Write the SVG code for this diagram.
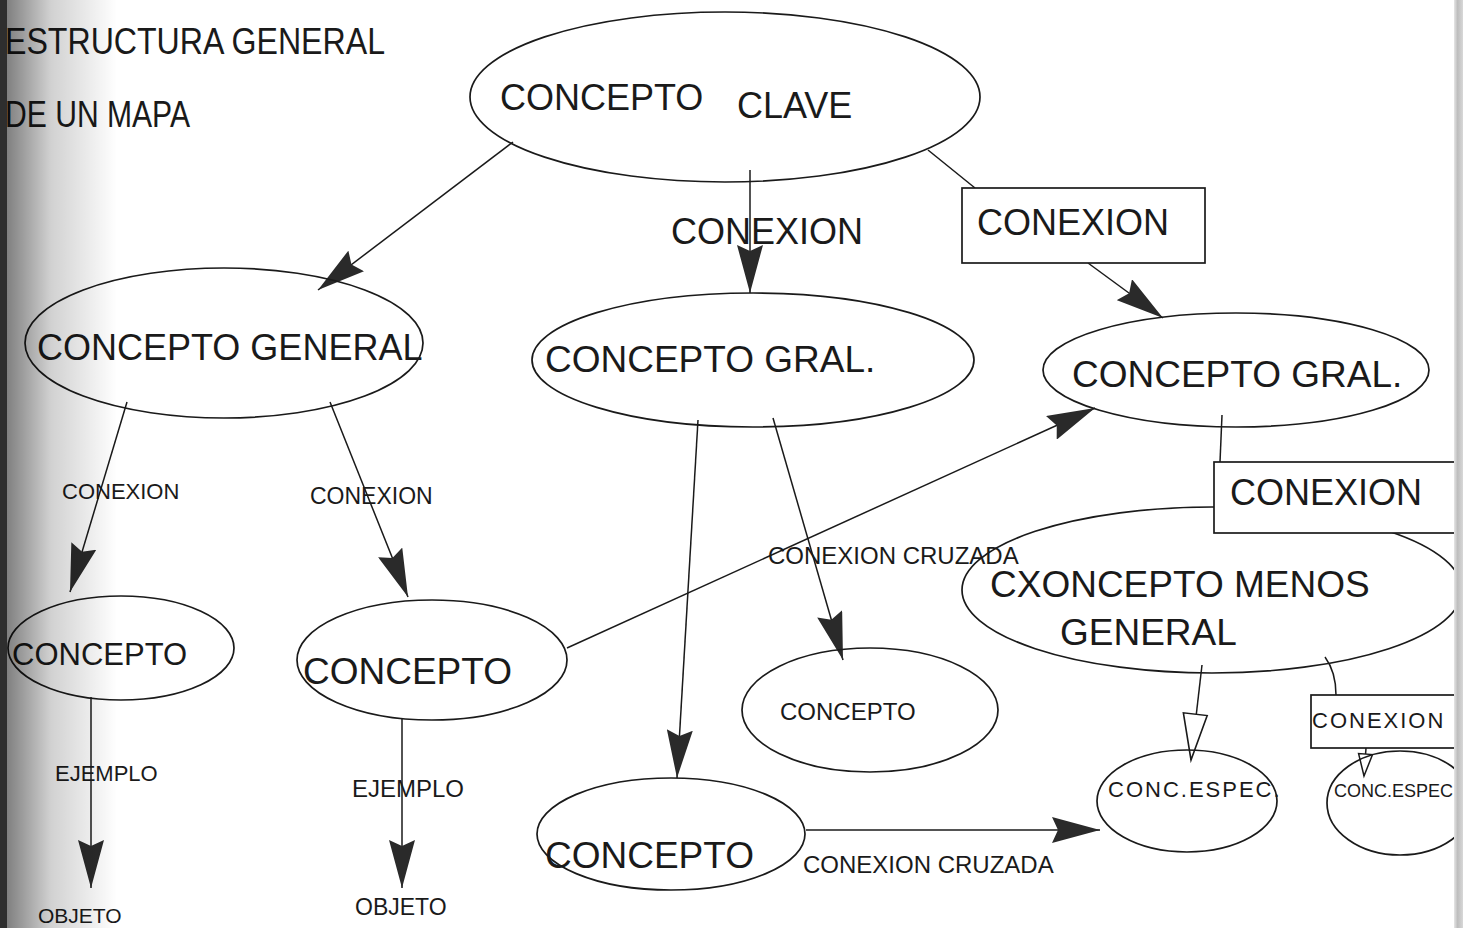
<svg xmlns="http://www.w3.org/2000/svg" width="1463" height="928" viewBox="0 0 1463 928">
<style>
text{font-family:"Liberation Sans",Arial,sans-serif;fill:#1a1a1a}
.big{font-size:36px}
.sm{font-size:23px}
.xs{font-size:22px;letter-spacing:2px}
.node{fill:none;stroke:#1a1a1a;stroke-width:1.7}
.box{fill:#fff;stroke:#1a1a1a;stroke-width:1.7}
.edge{fill:none;stroke:#1a1a1a;stroke-width:1.5}
</style>
<defs>
<marker id="ah" markerUnits="userSpaceOnUse" markerWidth="50" markerHeight="26" refX="48" refY="13" orient="auto">
<path d="M0,0 L48,13 L0,26 L6,13 z" fill="#2a2a2a"/>
</marker>
<marker id="ho" markerUnits="userSpaceOnUse" markerWidth="52" markerHeight="28" refX="48" refY="13" orient="auto">
<path d="M2,2 L48,13 L2,26 z" fill="#fff" stroke="#1a1a1a" stroke-width="1.6"/>
</marker>
<marker id="hs" markerUnits="userSpaceOnUse" markerWidth="28" markerHeight="20" refX="24" refY="9" orient="auto">
<path d="M2,2 L24,9 L2,16 z" fill="#fff" stroke="#1a1a1a" stroke-width="1.5"/>
</marker>
<linearGradient id="lg" x1="0" y1="0" x2="1" y2="0">
<stop offset="0" stop-color="#000" stop-opacity="0.5"/>
<stop offset="0.4" stop-color="#000" stop-opacity="0.18"/>
<stop offset="1" stop-color="#000" stop-opacity="0"/>
</linearGradient>
<linearGradient id="rg" x1="0" y1="0" x2="1" y2="0">
<stop offset="0" stop-color="#e6e6e6"/>
<stop offset="0.4" stop-color="#bdbdbd"/>
<stop offset="1" stop-color="#d8d8d8"/>
</linearGradient>
</defs>
<rect width="1463" height="928" fill="#fff"/>

<g id="title">
<text x="5" y="54" style="font-size:37px" textLength="380" lengthAdjust="spacingAndGlyphs">ESTRUCTURA GENERAL</text>
<text x="5" y="127" style="font-size:37px" textLength="185" lengthAdjust="spacingAndGlyphs">DE UN MAPA</text>
</g>

<g id="connectors">
<line class="edge" x1="513" y1="142" x2="318" y2="290" marker-end="url(#ah)"/>
<line class="edge" x1="750" y1="170" x2="750" y2="293" marker-end="url(#ah)"/>
<line class="edge" x1="928" y1="150" x2="975" y2="188"/>
<line class="edge" x1="1088" y1="263" x2="1163" y2="318" marker-end="url(#ah)"/>
<line class="edge" x1="127" y1="402" x2="70" y2="592" marker-end="url(#ah)"/>
<line class="edge" x1="330" y1="402" x2="408" y2="597" marker-end="url(#ah)"/>
<line class="edge" x1="91" y1="697" x2="91" y2="888" marker-end="url(#ah)"/>
<line class="edge" x1="402" y1="718" x2="402" y2="888" marker-end="url(#ah)"/>
<line class="edge" x1="698" y1="420" x2="677" y2="778" marker-end="url(#ah)"/>
<line class="edge" x1="773" y1="418" x2="843" y2="660" marker-end="url(#ah)"/>
<line class="edge" x1="567" y1="648" x2="1095" y2="408" marker-end="url(#ah)"/>
<line class="edge" x1="806" y1="830" x2="1100" y2="830" marker-end="url(#ah)"/>
<line class="edge" x1="1222" y1="415" x2="1220" y2="462"/>
<line class="edge" x1="1202" y1="665" x2="1191" y2="760" marker-end="url(#ho)"/>
<path class="edge" d="M1325,657 Q1336,672 1336,695"/>
<line class="edge" x1="1366" y1="748" x2="1364" y2="776" marker-end="url(#hs)"/>
<text class="big" x="671" y="244">CONEXION</text>
<text style="font-size:22px" x="62" y="499">CONEXION</text>
<text class="sm" x="310" y="504">CONEXION</text>
<text style="font-size:24px" x="768" y="564">CONEXION CRUZADA</text>
<text style="font-size:22px" x="55" y="781">EJEMPLO</text>
<text style="font-size:24px" x="352" y="797">EJEMPLO</text>
<text style="font-size:21px" x="38" y="923">OBJETO</text>
<text class="sm" x="355" y="915">OBJETO</text>
<text style="font-size:24px" x="803" y="873">CONEXION CRUZADA</text>
</g>

<g id="n-clave">
<ellipse class="node" cx="725" cy="97" rx="255" ry="85"/>
<text class="big" x="500" y="110">CONCEPTO</text>
<text class="big" x="737" y="118">CLAVE</text>
</g>
<g id="n-conexion1">
<rect class="box" x="962" y="188" width="243" height="75"/>
<text class="big" x="977" y="235">CONEXION</text>
</g>
<g id="n-general">
<ellipse class="node" cx="224" cy="343" rx="199" ry="75"/>
<text class="big" x="37" y="360">CONCEPTO GENERAL</text>
</g>
<g id="n-gral-mid">
<ellipse class="node" cx="753" cy="360" rx="221" ry="67"/>
<text x="545" y="372" style="font-size:37px">CONCEPTO GRAL.</text>
</g>
<g id="n-gral-right">
<ellipse class="node" cx="1236" cy="370" rx="193" ry="57"/>
<text x="1072" y="387" style="font-size:37px">CONCEPTO GRAL.</text>
</g>
<g id="n-menos">
<ellipse class="node" cx="1212" cy="590" rx="250" ry="83"/>
<text x="990" y="597" style="font-size:37px">CXONCEPTO MENOS</text>
<text x="1060" y="645" style="font-size:37px">GENERAL</text>
</g>
<g id="n-conexion2">
<rect class="box" x="1214" y="462" width="260" height="71"/>
<text class="big" x="1230" y="505">CONEXION</text>
</g>
<g id="n-concepto-a">
<ellipse class="node" cx="121" cy="648" rx="113" ry="52"/>
<text x="12" y="665" style="font-size:31px">CONCEPTO</text>
</g>
<g id="n-concepto-b">
<ellipse class="node" cx="432" cy="660" rx="135" ry="60"/>
<text x="303" y="684" style="font-size:37px">CONCEPTO</text>
</g>
<g id="n-concepto-c">
<ellipse class="node" cx="870" cy="710" rx="128" ry="62"/>
<text x="780" y="720" style="font-size:24px">CONCEPTO</text>
</g>
<g id="n-concepto-d">
<ellipse class="node" cx="671" cy="834" rx="134" ry="56"/>
<text x="545" y="868" style="font-size:37px">CONCEPTO</text>
</g>
<g id="n-espec1">
<ellipse class="node" cx="1187" cy="801" rx="90" ry="51"/>
<text class="xs" x="1108" y="797">CONC.ESPEC.</text>
</g>
<g id="n-conexion3">
<rect class="box" x="1311" y="695" width="160" height="53"/>
<text class="xs" x="1312" y="728">CONEXION</text>
</g>
<g id="n-espec2">
<ellipse class="node" cx="1400" cy="803" rx="73" ry="52"/>
<text x="1334" y="797" style="font-size:18px">CONC.ESPEC.</text>
</g>

<g id="scan-edges">
<rect x="7" y="0" width="110" height="928" fill="url(#lg)"/>
<rect x="0" y="0" width="7" height="928" fill="#2e2e2e"/>
<rect x="1454" y="0" width="9" height="928" fill="url(#rg)"/>
</g>
</svg>
